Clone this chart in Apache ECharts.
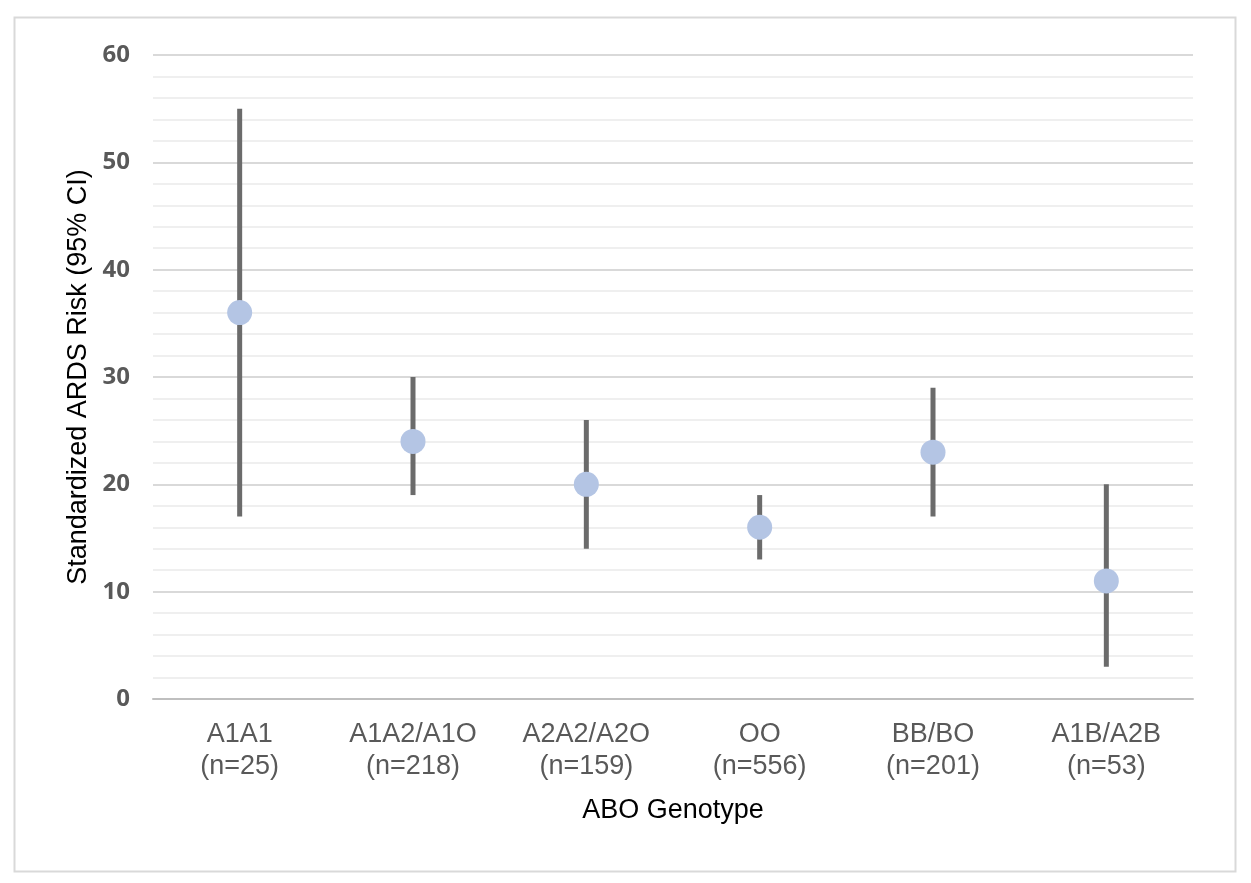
<!DOCTYPE html>
<html>
<head>
<meta charset="utf-8">
<script src="https://cdn.jsdelivr.net/npm/echarts@6/dist/echarts.min.js"></script>
<style>
html,body{margin:0;padding:0;background:#fff;}
#chart{width:1251px;height:883px;}
</style>
</head>
<body>
<div id="chart"></div>
<script>
const categories = ['A1A1\n(n=25)', 'A1A2/A1O\n(n=218)', 'A2A2/A2O\n(n=159)', 'OO\n(n=556)', 'BB/BO\n(n=201)', 'A1B/A2B\n(n=53)'];
const riskValues = [36, 24, 20, 16, 23, 11];
const lowerCI = [17, 19, 14, 13, 17, 3];
const upperCI = [55, 30, 26, 19, 29, 20];

const chart = echarts.init(document.getElementById('chart'));
const errData = categories.map((c, i) => [i, lowerCI[i], upperCI[i]]);

chart.setOption({
  backgroundColor: '#fff',
  animation: false,
  graphic: [{
    type: 'rect',
    left: 12, top: 15,
    shape: { width: 1221, height: 854 },
    style: { fill: 'none', stroke: '#d9d9d9', lineWidth: 2 },
    silent: true, z: -1
  }],
  grid: { left: 153, right: 58, top: 55, bottom: 184 },
  xAxis: {
    type: 'category',
    data: categories,
    name: 'ABO Genotype',
    nameLocation: 'middle',
    nameGap: 98,
    nameTextStyle: { fontFamily: 'Liberation Sans', fontSize: 27, color: '#000' },
    axisLine: { show: true, lineStyle: { color: '#bfbfbf', width: 2 } },
    axisTick: { show: false },
    axisLabel: { fontFamily: 'Liberation Sans', fontSize: 27, lineHeight: 32, color: '#595959', margin: 20, interval: 0 },
    splitLine: { show: false }
  },
  yAxis: {
    type: 'value',
    min: 0, max: 60, interval: 10,
    name: 'Standardized ARDS Risk (95% CI)',
    nameLocation: 'middle',
    nameGap: 61,
    nameTextStyle: { fontFamily: 'Liberation Sans', fontSize: 27, color: '#000' },
    axisLine: { show: false },
    axisTick: { show: false },
    axisLabel: { fontFamily: 'Open Sans', fontWeight: 'bold', fontSize: 24, color: '#595959', margin: 23, padding: [7, 0, 0, 0] },
    splitLine: { show: true, lineStyle: { color: '#d9d9d9', width: 2 } },
    minorTick: { show: false, splitNumber: 5 },
    minorSplitLine: { show: true, lineStyle: { color: '#efefef', width: 2 } }
  },
  series: [
    {
      type: 'custom',
      data: errData,
      z: 2,
      renderItem: function (params, api) {
        const x = api.value(0);
        const lo = api.coord([x, api.value(1)]);
        const hi = api.coord([x, api.value(2)]);
        return {
          type: 'line',
          shape: { x1: lo[0], y1: lo[1], x2: hi[0], y2: hi[1] },
          style: { stroke: '#6b6b6b', lineWidth: 5 }
        };
      }
    },
    {
      type: 'scatter',
      data: riskValues,
      symbol: 'circle',
      symbolSize: 25,
      z: 3,
      itemStyle: { color: '#b4c5e4', opacity: 1 }
    }
  ]
});
</script>
</body>
</html>
